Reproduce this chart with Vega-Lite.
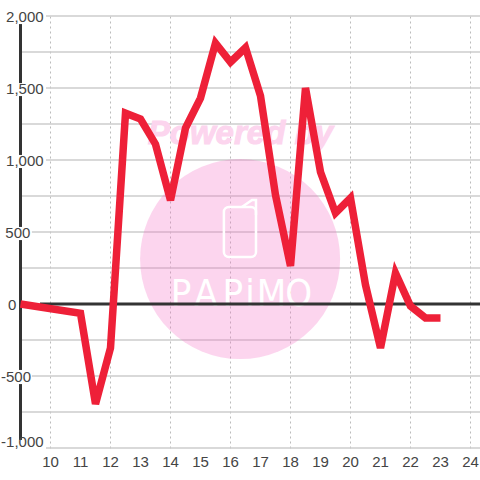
{
 "$schema":"https://vega.github.io/schema/vega-lite/v6.json",
 "width":434,"height":432,"padding":{"left":46,"top":16,"right":0,"bottom":32},
 "autosize":{"type":"none"},
 "background":"white",
 "config":{"view":{"stroke":null}},
 "datasets":{
  "series":[{"h":9,"v":0},{"h":11,"v":-65},{"h":11.5,"v":-694},{"h":12,"v":-305},{"h":12.5,"v":1325},{"h":13,"v":1285},{"h":13.5,"v":1110},{"h":14,"v":720},{"h":14.5,"v":1222},{"h":15,"v":1430},{"h":15.5,"v":1812},{"h":16,"v":1680},{"h":16.5,"v":1780},{"h":17,"v":1445},{"h":17.5,"v":757},{"h":18,"v":264},{"h":18.5,"v":1500},{"h":19,"v":917},{"h":19.5,"v":632},{"h":20,"v":736},{"h":20.5,"v":132},{"h":21,"v":-305},{"h":21.5,"v":215},{"h":22,"v":-14},{"h":22.5,"v":-97},{"h":23,"v":-97}],
  "axisSeg":[{"h":9,"a":1944,"b":1534},{"h":9,"a":1444,"b":1035},{"h":9,"a":944,"b":535},{"h":9,"a":444,"b":-458},{"h":9,"a":-556,"b":-944}],
  "grid":[{"v":2000,"s":9.85},{"v":1750,"s":9.05},{"v":1500,"s":9.85},{"v":1250,"s":9.05},{"v":1000,"s":9.85},{"v":750,"s":9.05},{"v":500,"s":9.38},{"v":250,"s":9.05},{"v":-250,"s":9.05},{"v":-500,"s":9.38},{"v":-750,"s":9.05},{"v":-1000,"s":9.85}]
 },
 "layer":[
  {"data":{"name":"grid"},
   "mark":{"type":"rule","color":"#ccc","strokeWidth":1.5,"clip":false},
   "encoding":{
    "x":{"field":"s","type":"quantitative","scale":{"domain":[9.85,24.317],"nice":false,"zero":false},
      "axis":{"values":[10,11,12,13,14,15,16,17,18,19,20,21,22,23,24],"domain":false,"ticks":false,"title":null,"labels":false,"gridColor":"#bbb","gridDash":[2,3],"grid":true,"gridWidth":1}},
    "x2":{"datum":24.317},
    "y":{"field":"v","type":"quantitative","scale":{"domain":[-1000,2000],"nice":false,"zero":false},"axis":null}
   }},
  {"data":{"values":[{"h":16.32,"v":312}]},
   "mark":{"type":"point","filled":true,"shape":"circle","color":"#f573c6","opacity":0.3,"clip":false},
   "encoding":{
    "x":{"field":"h","type":"quantitative"},
    "y":{"field":"v","type":"quantitative"},
    "size":{"value":40000}
   }},
  {"data":{"values":[{"h":16.33,"v":1180,"t":"Powered by"}]},
   "mark":{"type":"text","font":"Liberation Sans","fontWeight":"bold","fontStyle":"italic","fontSize":33,"color":"#fcd5ee","stroke":"#fcd5ee","strokeWidth":1,"baseline":"middle","align":"center"},
   "encoding":{"x":{"field":"h","type":"quantitative"},"y":{"field":"v","type":"quantitative"},"text":{"field":"t"}}},
  {"data":{"values":[{"a":15.78,"b":16.85,"c":674,"d":326}]},
   "mark":{"type":"rect","fill":null,"stroke":"white","strokeWidth":2.5,"cornerRadius":5},
   "encoding":{"x":{"field":"a","type":"quantitative"},"x2":{"field":"b"},"y":{"field":"c","type":"quantitative"},"y2":{"field":"d"}}},
  {"data":{"values":[{"o":1,"h":16.38,"v":674},{"o":2,"h":16.72,"v":722},{"o":3,"h":16.85,"v":722},{"o":4,"h":16.85,"v":618}]},
   "mark":{"type":"line","stroke":"white","strokeWidth":2.5},
   "encoding":{"x":{"field":"h","type":"quantitative"},"y":{"field":"v","type":"quantitative"},"order":{"field":"o"}}},
  {"data":{"values":[{"h":14.35,"t":"P"},{"h":15.18,"t":"A"},{"h":16.08,"t":"P"},{"h":16.65,"t":"i"},{"h":17.37,"t":"M"},{"h":18.27,"t":"O"}]},
   "mark":{"type":"text","font":"DejaVu Sans Condensed","fontSize":38,"color":"white","baseline":"alphabetic","align":"center"},
   "encoding":{"x":{"field":"h","type":"quantitative"},"y":{"datum":-14,"type":"quantitative"},"text":{"field":"t"}}},
  {"data":{"values":[{"a":9.65,"b":24.317,"v":0}]},
   "mark":{"type":"rule","color":"#333","strokeWidth":3},
   "encoding":{"x":{"field":"a","type":"quantitative"},"x2":{"field":"b"},"y":{"field":"v","type":"quantitative"}}},
  {"data":{"name":"axisSeg"},
   "mark":{"type":"rule","color":"#333","strokeWidth":3,"clip":false},
   "encoding":{"x":{"field":"h","type":"quantitative"},"y":{"field":"a","type":"quantitative"},"y2":{"field":"b"}}},
  {"data":{"values":[{"h":9.77,"v":2000,"t":"2,000"},{"h":9.77,"v":1500,"t":"1,500"},{"h":9.77,"v":1000,"t":"1,000"},{"h":9.33,"v":500,"t":"500"},{"h":8.86,"v":0,"t":"0"},{"h":9.35,"v":-500,"t":"-500"},{"h":9.77,"v":-951,"t":"-1,000"}]},
   "mark":{"type":"text","font":"Liberation Sans","fontSize":15,"color":"#444","align":"right","baseline":"middle","dy":1,"clip":false},
   "encoding":{"x":{"field":"h","type":"quantitative"},"y":{"field":"v","type":"quantitative"},"text":{"field":"t"}}},
  {"data":{"values":[{"h":10,"t":"10"},{"h":11,"t":"11"},{"h":12,"t":"12"},{"h":13,"t":"13"},{"h":14,"t":"14"},{"h":15,"t":"15"},{"h":16,"t":"16"},{"h":17,"t":"17"},{"h":18,"t":"18"},{"h":19,"t":"19"},{"h":20,"t":"20"},{"h":21,"t":"21"},{"h":22,"t":"22"},{"h":23,"t":"23"},{"h":24,"t":"24"}]},
   "mark":{"type":"text","font":"Liberation Sans","fontSize":15,"color":"#444","align":"center","baseline":"middle","dy":14,"clip":false},
   "encoding":{"x":{"field":"h","type":"quantitative"},"y":{"datum":-1000,"type":"quantitative"},"text":{"field":"t"}}},
  {"data":{"name":"series"},
   "mark":{"type":"line","color":"#ee2038","strokeWidth":7.5,"clip":false,"strokeCap":"butt","strokeJoin":"miter","strokeMiterLimit":4,"interpolate":"linear"},
   "encoding":{"x":{"field":"h","type":"quantitative"},"y":{"field":"v","type":"quantitative"}}}
 ]
}
